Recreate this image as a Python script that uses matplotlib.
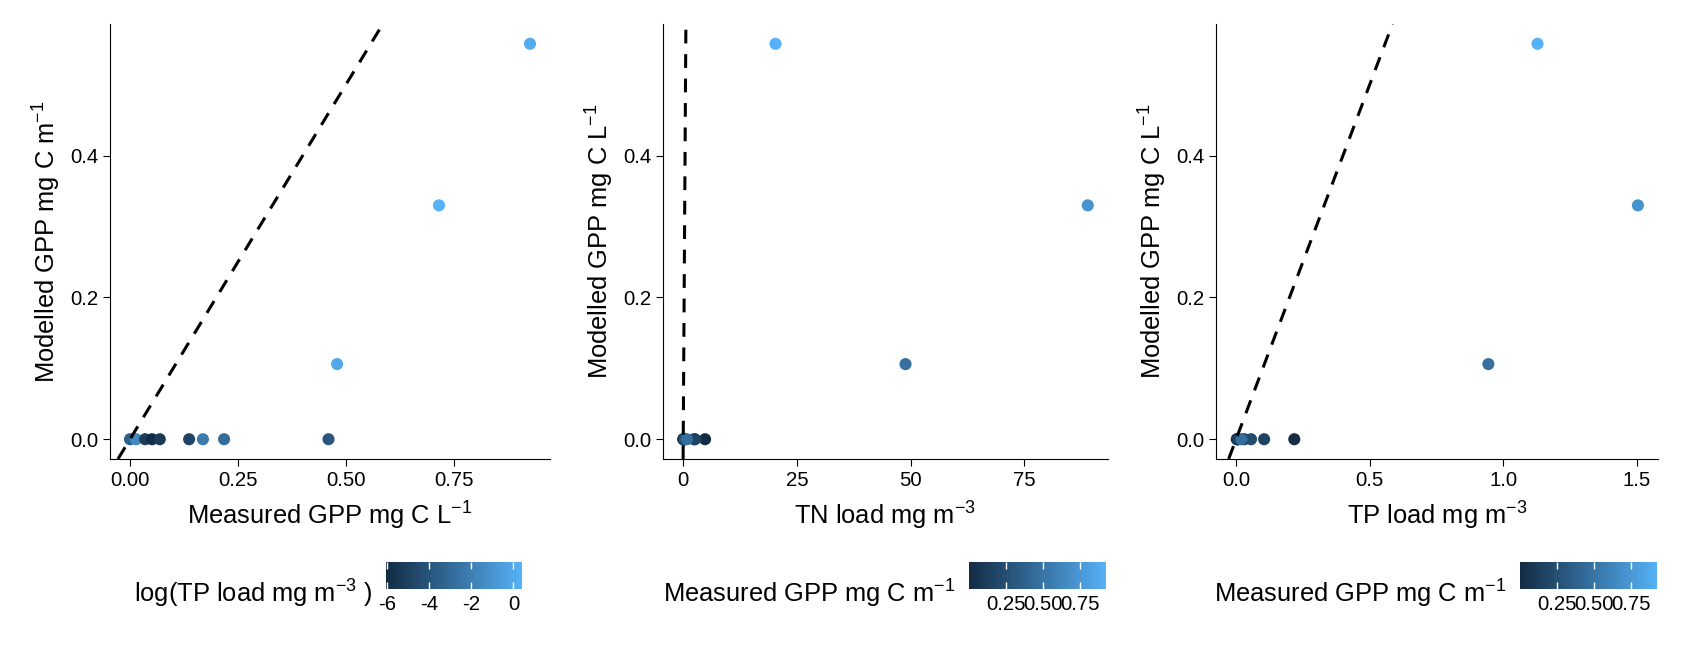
#!/usr/bin/env python3

import numpy as np
import matplotlib
matplotlib.use('Agg')
import matplotlib.pyplot as plt
from matplotlib.colors import LinearSegmentedColormap

plt.rcParams['font.family'] = ['Liberation Sans', 'DejaVu Sans']
plt.rcParams['mathtext.fontset'] = 'custom'
plt.rcParams['mathtext.rm'] = 'Liberation Sans'
plt.rcParams['mathtext.it'] = 'Liberation Sans:italic'
plt.rcParams['axes.unicode_minus'] = False

# values
measuredGPP = [0.0, 0.014, 0.035, 0.051, 0.069, 0.137, 0.169, 0.218, 0.46, 0.48, 0.716, 0.927]
modelledGPP = [0.0, 0.0, 0.0, 0.0, 0.0, 0.0, 0.0, 0.0, 0.0, 0.106, 0.330, 0.558]
tnLoad = [0.2, 4.8, 0.1, 0.0, 0.1, 2.4, 2.6, 0.3, 0.8, 48.9, 89.0, 20.3]
tpLoad = [0.03, 0.218, 0.006, 0.00236, 0.005, 0.008, 0.105, 0.056, 0.02, 0.945, 1.505, 1.129]

gppTicks = [0.25, 0.50, 0.75]
logTicks = [-6, -4, -2, 0]

W, H = 1684, 647
ggBlues = LinearSegmentedColormap.from_list('ggblues', ['#132B43', '#56B1F7'])

TICK_SIZE = 14.7
TITLE_SIZE = 18.4


def panel(fig, box, x, y, c, xlabel, ylabel, xticks, xfmt, cbox, ctitle, cticks, cfmt):
    left, right, top, bottom = box
    ax = fig.add_axes([left / W, 1 - bottom / H, (right - left) / W, (bottom - top) / H])
    sc = ax.scatter(x, y, c=c, cmap=ggBlues, s=76, linewidths=0, zorder=2)
    ax.axline((0, 0), slope=1, color='black', lw=2.2, ls=(0, (4.5, 3.5)), zorder=3)
    ax.margins(0.05)
    ax.spines['top'].set_visible(False)
    ax.spines['right'].set_visible(False)
    for s in ('left', 'bottom'):
        ax.spines[s].set_linewidth(0.8)
    ax.set_xticks(xticks)
    ax.set_xticklabels([xfmt % t for t in xticks])
    ax.set_yticks([0.0, 0.2, 0.4])
    ax.set_yticklabels(['0.0', '0.2', '0.4'])
    ax.tick_params(length=5, width=0.8, labelsize=TICK_SIZE, pad=3.5, colors='black')
    ax.set_xlabel(xlabel, fontsize=TITLE_SIZE, labelpad=7)
    ax.set_ylabel(ylabel, fontsize=TITLE_SIZE, labelpad=5)

    cl, cr, ct, cb = cbox
    cax = fig.add_axes([cl / W, 1 - cb / H, (cr - cl) / W, (cb - ct) / H])
    cbar = fig.colorbar(sc, cax=cax, orientation='horizontal')
    cbar.outline.set_visible(False)
    cbar.set_ticks(cticks)
    cbar.set_ticklabels([cfmt % t for t in cticks])
    cax.tick_params(direction='in', length=5, width=1, color='white', top=True, bottom=True,
                    labelsize=TICK_SIZE, pad=4)
    cax.text(-14 / (cr - cl), -0.52, ctitle, transform=cax.transAxes, ha='right', va='baseline',
             fontsize=TITLE_SIZE)
    return ax


fig = plt.figure(figsize=(W / 100, H / 100), dpi=100)

panel(fig, (110, 550, 24, 459), measuredGPP, modelledGPP, np.log(tpLoad),
      r'Measured GPP mg C L$^{-1}$', r'Modelled GPP mg C m$^{-1}$',
      [0.0, 0.25, 0.5, 0.75], '%.2f',
      (386, 522, 562, 589), r'log(TP load mg m$^{-3}$ )', logTicks, '%d')

panel(fig, (663, 1108, 24, 459), tnLoad, modelledGPP, measuredGPP,
      r'TN load mg m$^{-3}$', r'Modelled GPP mg C L$^{-1}$',
      [0, 25, 50, 75], '%d',
      (969, 1106, 562, 589), r'Measured GPP mg C m$^{-1}$', gppTicks, '%.2f')

panel(fig, (1216, 1658, 24, 459), tpLoad, modelledGPP, measuredGPP,
      r'TP load mg m$^{-3}$', r'Modelled GPP mg C L$^{-1}$',
      [0.0, 0.5, 1.0, 1.5], '%.1f',
      (1520, 1657, 562, 589), r'Measured GPP mg C m$^{-1}$', gppTicks, '%.2f')

fig.savefig('out.png', dpi=100)
plt.close()
